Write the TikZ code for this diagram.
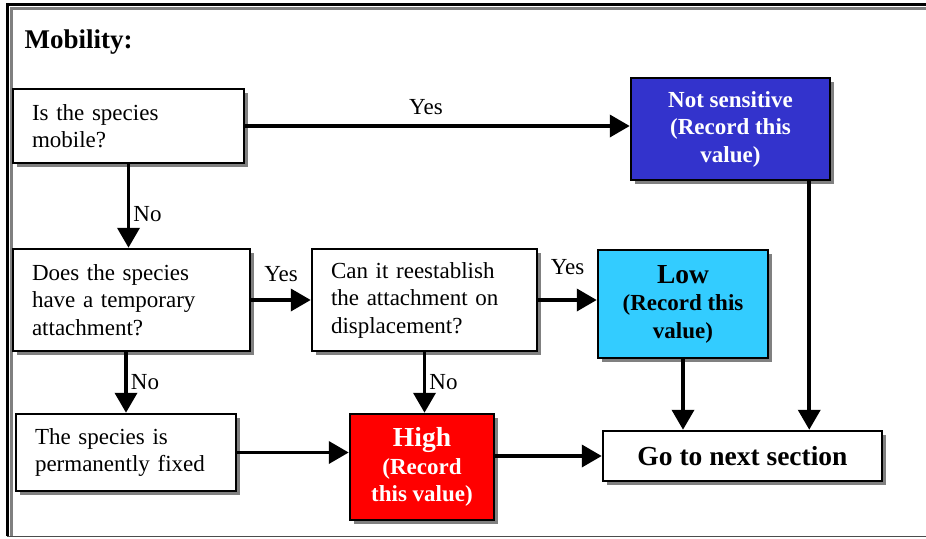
\documentclass[tikz,border=0pt]{standalone}
\usepackage{fontspec}
\setmainfont{Liberation Serif}
\usetikzlibrary{positioning,shadows,arrows.meta}

\definecolor{nsblue}{HTML}{3333CC}
\definecolor{lowcyan}{HTML}{33CCFF}
\definecolor{highred}{HTML}{FF0000}
\definecolor{shadowgrey}{HTML}{808080}

\newcommand{\qfont}{\fontsize{23}{27.5}\selectfont}
\newcommand{\vfont}{\fontsize{23}{27.5}\selectfont\bfseries}
\newcommand{\bigv}{\fontsize{27.5}{30}\selectfont}

\begin{document}
\begin{tikzpicture}[x=1pt, y=-1pt,
    box/.style = {shape=rectangle, draw, line width=2.5pt, inner sep=0pt,
      drop shadow={shadow xshift=4pt, shadow yshift=-4pt,
        fill=shadowgrey, opacity=1}},
    qbox/.style = {box, fill=white, align=left, font=\qfont},
    vbox/.style = {box, align=center, font=\vfont},
    flow/.style = {line width=3.8pt, -{Triangle[length=20pt,width=22pt]}},
    lbl/.style = {font=\qfont, inner sep=3pt}]

  \useasboundingbox (0,0) rectangle (926,538);

  % frame
  \draw[shadowgrey, line width=3pt] (11,536) -- (11,8) -- (926,8);
  \draw[line width=3pt] (7,536) -- (7,4) -- (926,4);
  \draw[black!70, line width=1.5pt] (7,536.5) -- (926,536.5);

  \node[anchor=west, font=\fontsize{27}{30}\selectfont\bfseries] (title)
    at (21,42) {Mobility:};

  % questions
  \node[qbox, minimum width=231pt, minimum height=74pt, text width=193pt]
    (mobile) at (128.5,126) {Is the species\\mobile?};
  \node[qbox, minimum width=237pt, minimum height=102pt, text width=199pt]
    (temp) at (131.5,300) {Does the species\\have a temporary\\attachment?};
  \node[qbox, minimum width=225pt, minimum height=102pt, text width=187pt]
    (reest) at (424.5,300) {Can it reestablish\\the attachment on\\displacement?};
  \node[qbox, minimum width=220pt, minimum height=77pt, text width=182pt]
    (fixed) at (126,452.5) {The species is\\permanently fixed};

  % values
  \node[vbox, fill=nsblue, text=white, minimum width=199pt, minimum height=102pt]
    (notsens) at (730.5,129) {Not sensitive\\(Record this\\value)};
  \node[vbox, fill=lowcyan, minimum width=170pt, minimum height=108pt]
    (low) at (683,304) {{\bigv Low}\\(Record this\\value)};
  \node[vbox, fill=highred, text=white, minimum width=144pt, minimum height=106pt]
    (high) at (422,467) {{\bigv High}\\(Record\\this value)};
  \node[box, fill=white, font=\fontsize{27.5}{30}\selectfont\bfseries,
    minimum width=279pt, minimum height=50pt, drop shadow={opacity=0}]
    (next) at (742.5,456) {Go to next section};

  \coordinate (nsout) at ([xshift=-22pt]notsens.south east);

  % connectors
  \draw[flow] (mobile.east) -- (mobile.east -| notsens.west)
    node[lbl, above=6pt, pos=0.47] {Yes};
  \draw[flow] (mobile.south) -- (mobile.south |- temp.north)
    node[lbl, right, pos=0.6] {No};
  \draw[flow] (temp.east) -- (reest.west)
    node[lbl, above=13pt, midway] {Yes};
  \draw[flow] (reest.east) -- (reest.east -| low.west)
    node[lbl, above=20pt, midway] {Yes};
  \draw[flow] (fixed.north |- temp.south) -- (fixed.north)
    node[lbl, right, pos=0.5] {No};
  \draw[flow] (reest.south) -- (reest.south |- high.north)
    node[lbl, right, pos=0.5] {No};
  \draw[flow] (fixed.east) -- (fixed.east -| high.west);
  \draw[flow] (next.west -| high.east) -- (next.west);
  \draw[flow] (low.south) -- (low.south |- next.north);
  \draw[flow] (nsout) -- (nsout |- next.north);
\end{tikzpicture}
\end{document}
